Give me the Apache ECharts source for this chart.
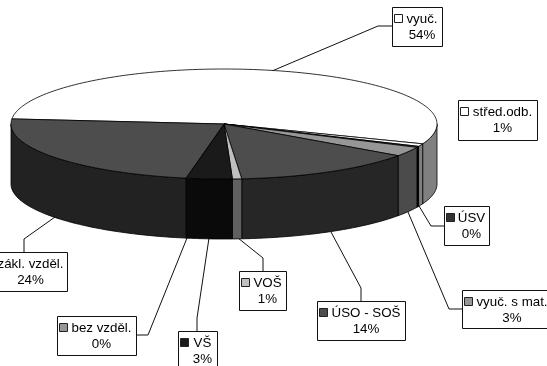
<!DOCTYPE html>
<html>
<head>
<meta charset="utf-8">
<style>
  html, body { margin: 0; padding: 0; background: #fff; overflow: hidden; }
  #chart { width: 547px; height: 366px; }
</style>
<script src="https://cdn.jsdelivr.net/npm/echarts@6/dist/echarts.min.js"></script>
</head>
<body>
<div id="chart"></div>
<script>
const sliceNames = ['vyuč.', 'střed.odb.', 'ÚSV', 'vyuč. s mat.', 'ÚSO - SOŠ', 'VOŠ', 'VŠ', 'bez vzděl.', 'zákl. vzděl.'];
const sliceValues = [54.4, 0.8, 0.3, 2.8, 13.9, 0.7, 3.45, 0.04, 23.61];
const topColors = ['#ffffff', '#ffffff', '#333333', '#969696', '#4d4d4d', '#c0c0c0', '#1a1a1a', '#969696', '#4d4d4d'];
const wallColors = ['#808080', '#808080', '#000000', '#4b4b4b', '#262626', '#606060', '#0a0a0a', '#4b4b4b', '#222222'];
// box: left, top, width, height; leader: elbow line from the pie to the box
const labelBoxes = [
    { x: 392, y: 7, w: 50, h: 39, leader: [[272, 71], [378, 26], [392, 26]] },
    { x: 458, y: 100, w: 79, h: 40, leader: null },
    { x: 444, y: 206, w: 45, h: 39, leader: [[419, 206], [431, 226], [444, 226]] },
    { x: 462, y: 290, w: 90, h: 38, leader: [[408, 212], [449, 309], [462, 309]] },
    { x: 317, y: 301, w: 88, h: 39, leader: [[331, 232], [361, 288], [361, 301]] },
    { x: 239, y: 271, w: 47, h: 39, leader: [[238, 238], [263, 258], [263, 271]] },
    { x: 178, y: 331, w: 39, h: 39, leader: [[209, 238], [197, 318], [197, 331]] },
    { x: 57, y: 316, w: 79, h: 39, leader: [[187, 238], [148, 335], [136, 335]] },
    { x: -16, y: 252, w: 83, h: 39, leader: [[55, 217], [24, 239], [24, 252]] }
];

const pie = { cx: 224, cy: 124, rx: 213, ry: 55, depth: 60, startAngle: 185.3 };
const fontName = '13.33px "Liberation Sans", Arial, sans-serif';
const lineColor = '#111';

const total = sliceValues.reduce((a, b) => a + b, 0);

function sliceRange(idx) {
    let before = 0;
    for (let i = 0; i < idx; i++) before += sliceValues[i];
    const from = pie.startAngle + before / total * 360;
    return [from, from + sliceValues[idx] / total * 360];
}

function arcPoints(from, to, dy) {
    const pts = [];
    const n = Math.max(2, Math.ceil((to - from) / 1.5));
    for (let i = 0; i <= n; i++) {
        const a = (from + (to - from) * i / n) * Math.PI / 180;
        pts.push([pie.cx + pie.rx * Math.cos(a), pie.cy + pie.ry * Math.sin(a) + dy]);
    }
    return pts;
}

// visible part of the side wall is where the angle falls in 0..180 (or 360..540)
function wallPolygons(from, to) {
    const out = [];
    [0, 360].forEach(base => {
        const a = Math.max(from, base);
        const b = Math.min(to, base + 180);
        if (b > a) {
            out.push(arcPoints(a, b, 0).concat(arcPoints(a, b, pie.depth).reverse()));
        }
    });
    return out;
}

function renderSlice(params, api) {
    const idx = params.dataIndex;
    const range = sliceRange(idx);
    const children = [];
    wallPolygons(range[0], range[1]).forEach(points => {
        children.push({
            type: 'polygon',
            shape: { points },
            style: { fill: wallColors[idx], stroke: '#000', lineWidth: 0.8 }
        });
    });
    children.push({
        type: 'polygon',
        shape: { points: [[pie.cx, pie.cy]].concat(arcPoints(range[0], range[1], 0)) },
        style: { fill: topColors[idx], stroke: '#000', lineWidth: 0.8 }
    });
    return { type: 'group', children };
}

function labelGraphics() {
    const items = [];
    labelBoxes.forEach((b, idx) => {
        if (b.leader) {
            items.push({
                type: 'polyline',
                shape: { points: b.leader },
                style: { fill: null, stroke: lineColor, lineWidth: 1 },
                silent: true
            });
        }
        items.push({
            type: 'rect',
            shape: { x: b.x + 0.5, y: b.y + 0.5, width: b.w, height: b.h },
            style: { fill: '#fff', stroke: lineColor, lineWidth: 1 },
            silent: true
        });
        items.push({
            type: 'rect',
            shape: { x: b.x + 2.5, y: b.y + 7.5, width: 8, height: 8 },
            style: { fill: topColors[idx], stroke: '#222', lineWidth: 1 },
            silent: true
        });
        const textX = b.x + 13.5 + (b.w - 17) / 2;
        items.push({
            type: 'text',
            style: {
                text: sliceNames[idx], x: textX, y: b.y + 12,
                font: fontName, fill: '#000', textAlign: 'center', textVerticalAlign: 'middle'
            },
            silent: true
        });
        items.push({
            type: 'text',
            style: {
                text: Math.round(sliceValues[idx]) + '%', x: textX, y: b.y + 28,
                font: fontName, fill: '#000', textAlign: 'center', textVerticalAlign: 'middle'
            },
            silent: true
        });
    });
    return items;
}

const chart = echarts.init(document.getElementById('chart'), null, { renderer: 'canvas' });
chart.setOption({
    animation: false,
    backgroundColor: '#fff',
    series: [{
        type: 'custom',
        coordinateSystem: 'none',
        silent: true,
        data: sliceValues,
        renderItem: renderSlice
    }],
    graphic: { elements: labelGraphics() }
});
</script>
</body>
</html>
